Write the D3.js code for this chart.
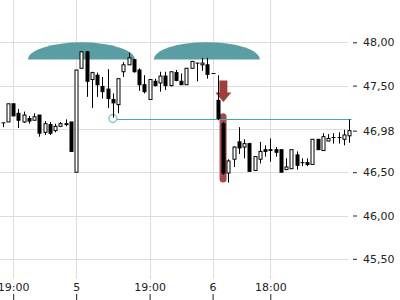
<!DOCTYPE html>
<html>
<head>
<meta charset="utf-8">
<script src="https://cdn.jsdelivr.net/npm/d3@7"></script>
<style>
  html, body { margin: 0; padding: 0; background: #fff; }
  svg { display: block; }
  text { font-family: "DejaVu Sans", sans-serif; font-size: 11px; fill: #222; }
</style>
</head>
<body>
<svg id="chart" width="400" height="300"></svg>
<script>
// ---- data ----
const openV  = [47.07,47.08,47.29,47.18,47.08,47.12,47.10,47.16,46.96,47.05,46.98,47.03,47.06,47.08,46.50,47.70,47.89,47.57,47.62,47.49,47.46,47.34,47.28,47.66,47.74,47.80,47.68,47.51,47.34,47.55,47.53,47.61,47.50,47.65,47.55,47.51,47.70,47.76,47.74,47.74,47.64,47.33,47.06,46.49,46.65,46.85,46.79,46.83,46.52,46.65,46.76,46.76,46.76,46.76,46.53,46.54,46.70,46.61,46.61,46.59,46.88,46.75,46.86,46.90,46.90,46.88,46.92];
const highV  = [47.07,47.29,47.29,47.23,47.20,47.15,47.18,47.16,47.09,47.08,47.06,47.08,47.11,47.08,47.68,47.90,47.90,47.66,47.65,47.60,47.69,47.41,47.58,47.77,47.88,47.81,47.70,47.62,47.57,47.58,47.66,47.66,47.66,47.68,47.64,47.70,47.78,47.76,47.82,47.82,47.64,47.62,47.08,46.65,46.80,47.02,46.88,46.84,46.68,46.85,46.81,46.89,46.79,46.76,46.66,46.76,46.74,46.66,46.66,46.88,46.88,46.95,46.94,46.95,46.96,46.99,47.11];
const lowV   = [47.02,47.08,47.15,47.01,47.07,47.06,47.10,46.91,46.93,46.93,46.96,47.02,47.03,46.74,46.50,47.70,47.37,47.24,47.37,47.35,47.24,47.13,47.18,47.60,47.74,47.65,47.44,47.41,47.34,47.49,47.43,47.45,47.49,47.55,47.51,47.51,47.70,47.55,47.67,47.58,47.64,47.10,46.47,46.38,46.56,46.71,46.66,46.51,46.52,46.60,46.68,46.62,46.68,46.50,46.53,46.54,46.53,46.57,46.57,46.59,46.76,46.75,46.86,46.83,46.83,46.81,46.84];
const closeV = [47.07,47.29,47.15,47.10,47.16,47.09,47.14,46.95,47.06,46.95,47.03,47.06,47.05,46.74,47.68,47.89,47.55,47.65,47.51,47.43,47.35,47.30,47.58,47.74,47.82,47.66,47.51,47.43,47.57,47.50,47.61,47.50,47.66,47.56,47.51,47.70,47.78,47.76,47.76,47.63,47.64,47.12,46.49,46.63,46.79,46.78,46.83,46.51,46.68,46.74,46.74,46.75,46.73,46.50,46.56,46.76,46.58,46.61,46.59,46.88,46.76,46.91,46.89,46.90,46.90,46.93,46.98];

const xTickIndex  = [2, 14, 28, 40, 51];
const xTickLabels = ["19:00", "5", "19:00", "6", "18:00"];
const yGridValues = [48, 47.5, 47, 46.5, 46, 45.5];
const yTickValues = [48, 47.5, 46.98, 46.5, 46, 45.5];

// annotations (in data units)
const domeSpans   = [[4.8, 25.2], [28.8, 49.0]];
const domeBase    = 47.80;
const domeTop     = 48.00;
const levelIndex  = 21;
const levelValue  = 47.12;
const levelEnd    = 66.5;
const arrowIndex  = 42;
const arrowValues = [47.56, 47.42, 47.31]; // top, head base, tip
const barIndex    = 42;
const barRange    = [47.18, 46.38];

// ---- chart ----
const svg = d3.select("#chart");
const n = openV.length;
const candles = d3.range(n).map(i => ({i, o: openV[i], h: highV[i], l: lowV[i], c: closeV[i]}));

const x = d3.scaleLinear().domain([0, n - 1]).range([2.7, 349]);
const y = d3.scaleLinear().domain([45.5, 48]).range([258.8, 42.3]);

const fmt = d3.formatLocale({decimal: ",", thousands: ".", grouping: [3], currency: ["", ""]}).format(".2f");

// grid
const grid = svg.append("g").attr("stroke", "#dddddd").attr("stroke-width", 1);
grid.selectAll("line.h").data(yGridValues).join("line")
  .attr("x1", 0).attr("x2", 348)
  .attr("y1", d => Math.round(y(d)) + 0.5).attr("y2", d => Math.round(y(d)) + 0.5);
grid.selectAll("line.v").data(xTickIndex).join("line")
  .attr("x1", d => Math.round(x(d)) + 0.5).attr("x2", d => Math.round(x(d)) + 0.5)
  .attr("y1", 0).attr("y2", 279);

// domes
svg.append("g").selectAll("path").data(domeSpans).join("path")
  .attr("fill", "#5a9ea3")
  .attr("d", d => {
    const x0 = x(d[0]), x1 = x(d[1]), yb = y(domeBase), yt = y(domeTop);
    const rx = (x1 - x0) / 2, ry = yb - yt;
    return `M${x0},${yb} A${rx},${ry} 0 0 1 ${x1},${yb} Z`;
  });

// red bar
svg.append("rect")
  .attr("x", x(barIndex) - 3.5).attr("width", 7)
  .attr("y", y(barRange[0])).attr("height", y(barRange[1]) - y(barRange[0]))
  .attr("rx", 3.5).attr("fill", "#a14a46");

// red arrow
{
  const cx = x(arrowIndex) + 0.3;
  const t = y(arrowValues[0]), hb = y(arrowValues[1]), tip = y(arrowValues[2]);
  svg.append("path")
    .attr("fill", "#9e3f3b")
    .attr("d", `M${cx-4},${t} L${cx+4},${t} L${cx+4},${hb} L${cx+8},${hb} L${cx},${tip} L${cx-8},${hb} L${cx-4},${hb} Z`);
}

// level line + circle
svg.append("rect")
  .attr("x", x(levelIndex) + 4).attr("width", x(levelEnd) - x(levelIndex) - 4)
  .attr("y", Math.round(y(levelValue))).attr("height", 1)
  .attr("fill", "#4fa5aa");
svg.append("circle")
  .attr("cx", x(levelIndex)).attr("cy", y(levelValue))
  .attr("r", 4).attr("fill", "none").attr("stroke", "#86c2c4").attr("stroke-width", 1.4);

// candles
const cg = svg.append("g");
const cs = cg.selectAll("g").data(candles).join("g");
cs.append("line")
  .attr("x1", d => Math.round(x(d.i)) + 0.5).attr("x2", d => Math.round(x(d.i)) + 0.5)
  .attr("y1", d => y(d.h)).attr("y2", d => y(d.l))
  .attr("stroke", "#000").attr("stroke-width", 1);
cs.append("rect")
  .attr("x", d => Math.round(x(d.i)) - 1)
  .attr("width", 3)
  .attr("y", d => y(Math.max(d.o, d.c)))
  .attr("height", d => Math.max(0.01, y(Math.min(d.o, d.c)) - y(Math.max(d.o, d.c))))
  .attr("fill", d => d.c > d.o ? "#fff" : "#000")
  .attr("stroke", "#000").attr("stroke-width", 1);

// y axis
const yAxis = d3.axisRight(y).tickValues(yTickValues).tickSize(4).tickPadding(6).tickFormat(fmt);
svg.append("g").attr("transform", "translate(353,0)").call(yAxis)
  .call(g => g.select(".domain").remove())
  .call(g => g.selectAll("text").attr("font-family", "DejaVu Sans").attr("font-size", 11).attr("fill", "#222"))
  .call(g => g.selectAll("line").attr("stroke", "#222"));

// x axis
const xAxis = d3.axisBottom(x).tickValues(xTickIndex).tickSize(6).tickFormat((d, i) => xTickLabels[i]);
svg.append("g").attr("transform", "translate(0,294)").call(xAxis)
  .call(g => g.select(".domain").remove())
  .call(g => g.selectAll("text").attr("y", -3).attr("dy", 0)
      .attr("font-family", "DejaVu Sans").attr("font-size", 11).attr("fill", "#222"))
  .call(g => g.selectAll("line").attr("stroke", "#222"));
</script>
</body>
</html>
